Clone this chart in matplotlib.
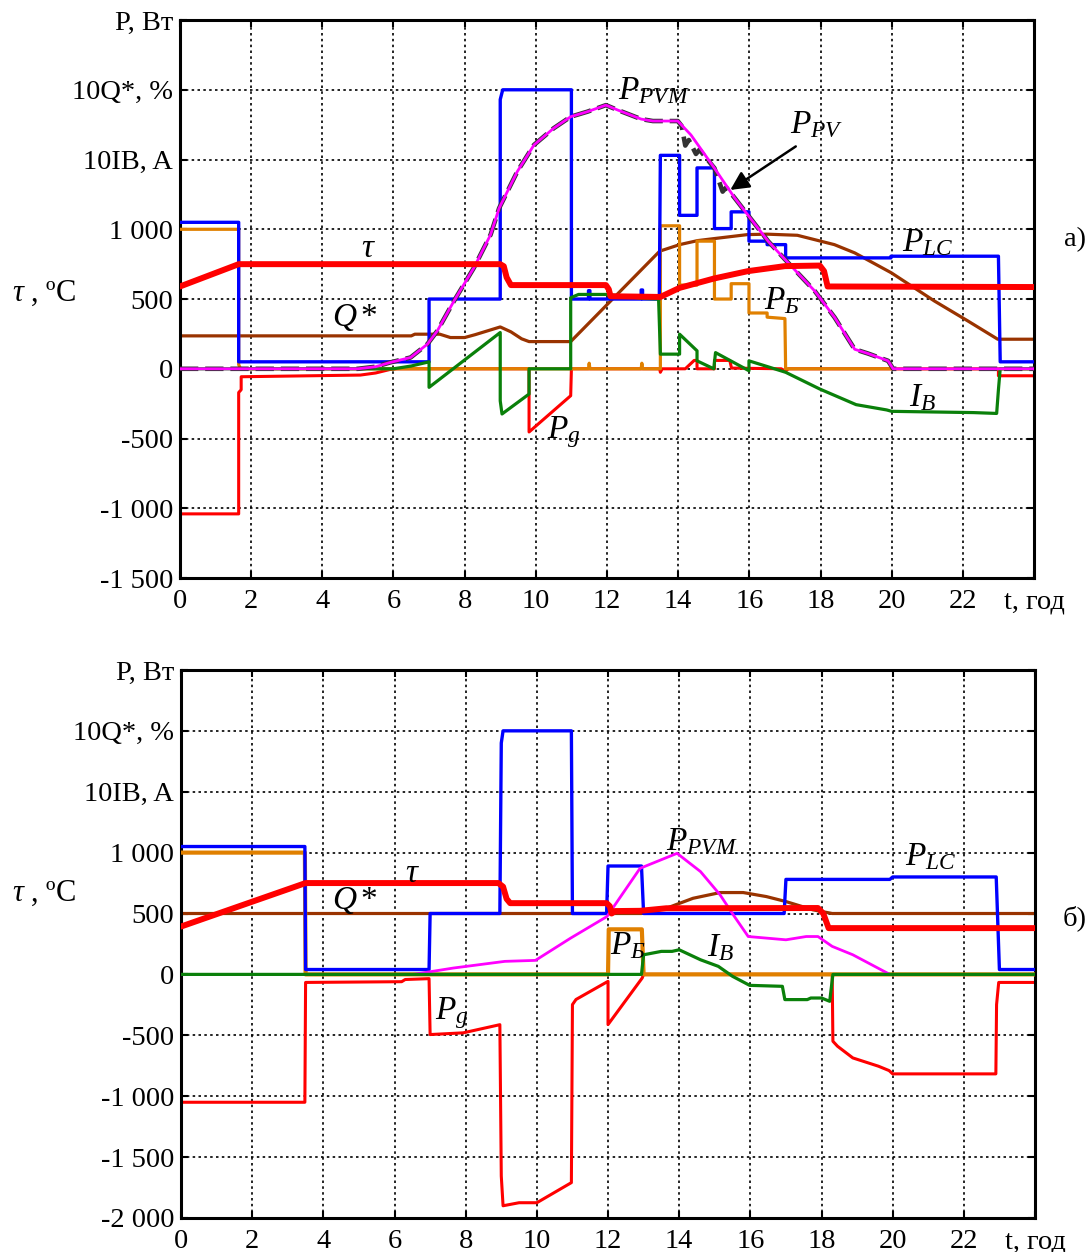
import matplotlib
matplotlib.use("Agg")
import matplotlib.pyplot as plt

plt.rcParams['font.family'] = ['Liberation Serif', 'DejaVu Serif']
plt.rcParams['mathtext.fontset'] = 'custom'
plt.rcParams['mathtext.rm'] = 'Liberation Serif'
plt.rcParams['mathtext.it'] = 'Liberation Serif:italic'
plt.rcParams['mathtext.bf'] = 'Liberation Serif:bold'

# ---------------- panel a) data ----------------
t_load_a = [0, 1.65, 1.65, 7.0, 7.0, 9.0, 9.0, 9.07, 11.0, 11.0, 11.48, 11.48, 11.52, 11.52, 12.96, 12.96, 13.0, 13.0,
            13.47, 13.5, 14.04, 14.04, 14.53, 14.53, 15.02, 15.02, 15.49, 15.49, 15.99, 15.99, 16.5, 16.5, 17.02, 17.02,
            19.98, 19.98, 23.0, 23.05, 24]
p_load_a = [1050, 1050, 50, 50, 500, 500, 1930, 2000, 2000, 500, 500, 560, 560, 500, 500, 565, 565, 500,
            500, 1530, 1530, 1100, 1100, 1440, 1440, 1005, 1005, 1125, 1125, 915, 915, 890, 890, 795,
            795, 807, 807, 50, 50]

t_bat_a = [0, 1.65, 1.65, 1.7, 11.48, 11.5, 11.52, 12.96, 12.98, 13.0, 13.5, 13.5, 14.04, 14.04, 14.53, 14.53,
           15.02, 15.02, 15.49, 15.49, 15.99, 15.99, 16.5, 16.5, 17.0, 17.02, 24]
p_bat_a = [1000, 1000, 30, 0, 0, 40, 0, 0, 40, 0, 0, 1025, 1025, 600, 600, 915,
           915, 500, 500, 610, 610, 400, 400, 370, 360, 0, 0]

t_tau_a = [0, 1.65, 9.0, 9.1, 9.18, 9.3, 11.97, 12.05, 12.1, 13.5, 14.04, 15.02, 15.96, 17.0, 17.98, 18.1, 18.2, 24]
tau_a = [590, 750, 750, 735, 655, 600, 600, 570, 520, 515, 580, 648, 700, 736, 740, 700, 590, 586]

t_grid_a = [0, 1.65, 1.65, 1.72, 1.72, 5.07, 5.5, 5.9, 6.1, 9.81, 9.81, 10.98, 11.0, 13.48, 13.5, 13.55, 14.2,
            14.45, 14.53, 14.53, 15.02, 15.02, 15.45, 15.5, 16.9, 17.0, 17.1, 23.0, 23.0, 24]
p_grid_a = [-1040, -1040, -170, -150, -57, -45, -30, -5, 0, 0, -453, -193, 0, 0, -25, 0, 0,
            60, 60, 0, 0, 60, 60, 5, 0, -20, 0, 0, -50, -50]

t_ib_a = [0, 6.0, 6.5, 7.0, 7.0, 9.0, 9.0, 9.05, 9.81, 9.81, 10.98, 10.98, 11.2, 11.98, 12.5, 12.97, 13.45,
          13.5, 14.04, 14.04, 14.53, 14.53, 15.0, 15.05, 15.99, 15.99, 17.02, 17.98, 19.0, 19.86, 20.0, 22.3,
          22.95, 23.0, 23.05, 24]
ib_a = [0, 0, 20, 50, -133, 260, -230, -324, -181, 0, 0, 509, 533, 533, 520, 505, 500,
        105, 105, 248, 129, 57, 0, 116, -14, 57, -25, -145, -257, -295, -305, -314,
        -320, -150, 0, 0]

t_soc_a = [0, 6.5, 6.6, 7.3, 7.6, 8.0, 8.3, 9.0, 9.3, 9.6, 9.81, 10.98, 13.48, 14.04, 14.55, 15.0, 15.95,
           16.5, 17.35, 18.39, 18.96, 19.99, 21.2, 22.14, 22.98, 24]
soc_a = [236, 236, 248, 248, 224, 224, 245, 300, 265, 215, 195, 195, 843, 890, 919, 933, 962,
         965, 957, 890, 831, 688, 486, 343, 212, 212]

t_pvm_a = [0, 5.0, 5.5, 5.9, 6.48, 6.95, 7.23, 7.7, 8.26, 8.73, 8.97, 9.48, 9.95, 10.5, 10.98, 11.45, 11.97,
           12.3, 12.96, 13.29, 13.99, 14.36, 15.02, 15.59, 16.06, 16.53, 17.09, 17.84, 18.4, 18.96, 19.34,
           19.9, 20.04, 24]
p_pvm_a = [0, 0, 15, 45, 81, 176, 271, 486, 724, 962, 1152, 1414, 1605, 1724, 1807, 1843, 1890,
           1855, 1790, 1776, 1776, 1676, 1438, 1224, 1069, 914, 760, 557, 367, 140, 109,
           57, 0, 0]

t_pv_a = [0, 5.0, 5.5, 5.9, 6.48, 6.95, 7.23, 7.7, 8.26, 8.73, 8.97, 9.48, 9.95, 10.5, 10.98, 11.45, 11.97,
          12.3, 12.96, 13.29, 13.99, 14.1, 14.2, 14.3, 14.5, 14.6, 15.02, 15.25, 15.35, 15.59, 16.06, 16.53,
          17.09, 17.84, 18.4, 18.96, 19.34, 19.9, 20.04, 24]
p_pv_a = [0, 0, 15, 45, 81, 176, 271, 486, 724, 962, 1152, 1414, 1605, 1724, 1807, 1843, 1890,
          1855, 1790, 1776, 1776, 1740, 1600, 1640, 1540, 1570, 1438, 1270, 1300, 1224, 1069, 914,
          760, 557, 367, 140, 109, 57, 0, 0]

# ---------------- panel b) data ----------------
t_load_b = [0, 3.48, 3.5, 6.97, 7.0, 8.96, 9.0, 9.05, 10.97, 11.0, 11.96, 12.0, 12.94, 13.0, 16.95, 17.0,
            19.92, 20.0, 22.91, 23.0, 24]
p_load_b = [1050, 1050, 40, 40, 500, 500, 1900, 2000, 2000, 500, 500, 890, 890, 500, 500, 780,
            780, 800, 800, 40, 40]

t_bat_b = [0, 3.48, 3.5, 12.0, 12.02, 12.95, 13.0, 24]
p_bat_b = [1000, 1000, 0, 0, 370, 370, 0, 0]

t_tau_b = [0, 3.5, 8.92, 9.05, 9.15, 9.25, 11.96, 12.05, 12.1, 12.2, 12.9, 13.64, 17.9, 18.05, 18.2, 24]
tau_b = [393, 750, 750, 720, 620, 585, 585, 560, 500, 520, 522, 543, 545, 500, 380, 380]

t_grid_b = [0, 3.48, 3.5, 6.2, 6.3, 6.97, 7.0, 7.93, 8.96, 9.0, 9.05, 9.5, 10.0, 10.97, 11.0, 11.1, 12.0,
            12.0, 12.96, 13.0, 18.3, 18.32, 18.45, 18.88, 19.6, 19.9, 20.0, 22.9, 22.92, 22.98, 24]
p_grid_b = [-1050, -1050, -66, -60, -42, -35, -494, -480, -413, -1656, -1900, -1875, -1875, -1710, -248, -206, -57,
            -412, -30, 0, 0, -549, -590, -686, -754, -790, -817, -817, -248, -66, -66]

t_ib_b = [0, 12.94, 13.0, 13.5, 13.8, 14.0, 14.6, 15.1, 15.5, 15.98, 16.9, 16.97, 17.6, 17.7, 18.0, 18.23,
          18.32, 24]
ib_b = [0, 0, 161, 189, 189, 202, 120, 66, -16, -90, -98, -207, -207, -194, -194, -221,
        0, 0]

t_soc_b = [0, 12.94, 13.64, 14.39, 15.15, 15.8, 16.45, 17.0, 17.76, 18.3, 24]
soc_b = [500, 500, 543, 625, 672, 672, 639, 598, 530, 500, 500]

t_pvm_b = [0, 6.53, 7.65, 9.1, 9.96, 10.95, 11.97, 12.9, 13.94, 14.6, 15.15, 15.52, 15.94, 16.45, 17.0,
           17.57, 17.9, 18.3, 18.88, 19.92, 24]
p_pvm_b = [0, 0, 52, 107, 115, 298, 475, 871, 994, 844, 653, 489, 311, 298, 284,
           311, 311, 230, 161, 0, 0]

# ---------------- axes labels ----------------
x_ticks = list(range(0, 25, 2))
x_labels = ['0', '2', '4', '6', '8', '10', '12', '14', '16', '18', '20', '22', 't, год']
y_ticks_a = [-1500, -1000, -500, 0, 500, 1000, 1500, 2000, 2500]
y_labels_a = ['-1 500', '-1 000', '-500', '0', '500', '1 000', '10IB, A', '10Q*, %', 'P, Вт']
y_ticks_b = [-2000, -1500, -1000, -500, 0, 500, 1000, 1500, 2000, 2500]
y_labels_b = ['-2 000', '-1 500', '-1 000', '-500', '0', '500', '1 000', '10IB, A', '10Q*, %', 'P, Вт']

C_BLUE = '#0000ff'
C_RED = '#ff0000'
C_ORANGE = '#e08000'
C_BROWN = '#993300'
C_GREEN = '#0a800a'
C_MAG = '#ff00ff'

fig = plt.figure(figsize=(10.92, 12.52), dpi=100)
ax1 = fig.add_axes([0.1648, 0.5383, 0.7821, 0.4457])
ax2 = fig.add_axes([0.1658, 0.0272, 0.7820, 0.4377])

FS = 20.5
LFS = 24


def style(ax, yt, yl, ylim):
    ax.set_xlim(0, 24)
    ax.set_ylim(*ylim)
    ax.set_xticks(x_ticks)
    ax.set_xticklabels(x_labels, fontsize=FS)
    ax.set_yticks(yt)
    ax.set_yticklabels(yl, fontsize=FS)
    ax.grid(True, color='black', linestyle=(0, (1.5, 2.0)), linewidth=1.2)
    ax.tick_params(direction='in', length=5, width=1.5, top=True, right=True, pad=5)
    ax.tick_params(axis='x', pad=8)
    for s in ax.spines.values():
        s.set_linewidth(2.2)
    ax.set_axisbelow(True)


def line(ax, t, v, c, lw, z, **kw):
    ax.plot(t, v, color=c, lw=lw, zorder=z, solid_joinstyle='round', solid_capstyle='round', **kw)


# ---- panel a ----
style(ax1, y_ticks_a, y_labels_a, (-1500, 2500))
line(ax1, t_grid_a, p_grid_a, C_RED, 2.2, 1.5)
line(ax1, t_soc_a, soc_a, C_BROWN, 2.3, 2)
line(ax1, t_bat_a, p_bat_a, C_ORANGE, 2.3, 3)
line(ax1, t_load_a, p_load_a, C_BLUE, 2.4, 4)
line(ax1, t_ib_a, ib_a, C_GREEN, 2.3, 5)
ax1.plot(t_pv_a, p_pv_a, color='#333333', lw=3.3, zorder=7, linestyle=(0, (4, 1.5)))
line(ax1, t_pvm_a, p_pvm_a, C_MAG, 2.0, 8)
line(ax1, t_tau_a, tau_a, C_RED, 4.3, 9)

ax1.text(12.3, 1935, r'$P_{PVM}$', fontsize=LFS, zorder=10)
ax1.text(17.13, 1688, r'$P_{PV}$', fontsize=LFS, zorder=10)
ax1.annotate('', xy=(15.4, 1271), xytext=(17.37, 1605),
             arrowprops=dict(arrowstyle='-|>', color='black', lw=1.8, mutation_scale=28), zorder=10)
ax1.text(20.28, 843, r'$P_{LC}$', fontsize=LFS, zorder=10)
ax1.text(5.1, 800, r'$\tau$', fontsize=LFS, zorder=10)
ax1.text(4.27, 305, r'$Q*$', fontsize=LFS, zorder=10)
ax1.text(16.42, 430, r'$P_{Б}$', fontsize=LFS, zorder=10)
ax1.text(20.5, -270, r'$I_{B}$', fontsize=LFS, zorder=10)
ax1.text(10.32, -495, r'$P_{g}$', fontsize=LFS, zorder=10)

# ---- panel b ----
style(ax2, y_ticks_b, y_labels_b, (-2000, 2500))
line(ax2, t_grid_b, p_grid_b, C_RED, 2.2, 1.5)
line(ax2, t_soc_b, soc_b, C_BROWN, 2.3, 2)
line(ax2, t_bat_b, p_bat_b, C_ORANGE, 3.0, 3)
line(ax2, t_load_b, p_load_b, C_BLUE, 2.4, 4)
line(ax2, t_pvm_b, p_pvm_b, C_MAG, 2.0, 6)
line(ax2, t_ib_b, ib_b, C_GREEN, 2.3, 7)
line(ax2, t_tau_b, tau_b, C_RED, 4.3, 9)

ax2.text(13.64, 1022, r'$P_{PVM}$', fontsize=LFS, zorder=10)
ax2.text(20.34, 893, r'$P_{LC}$', fontsize=LFS, zorder=10)
ax2.text(6.29, 762, r'$\tau$', fontsize=LFS, zorder=10)
ax2.text(4.23, 533, r'$Q*$', fontsize=LFS, zorder=10)
ax2.text(12.05, 164, r'$P_{Б}$', fontsize=LFS, zorder=10)
ax2.text(14.77, 148, r'$I_{B}$', fontsize=LFS, zorder=10)
ax2.text(7.13, -372, r'$P_{g}$', fontsize=LFS, zorder=10)

# side labels
fig.text(0.040, 1 - 293 / 1252, r'$\tau$ , ºC', fontsize=22, ha='center', va='center')
fig.text(0.040, 1 - 893 / 1252, r'$\tau$ , ºC', fontsize=22, ha='center', va='center')
fig.text(0.984, 1 - 240 / 1252, 'а)', fontsize=FS, ha='center', va='center')
fig.text(0.984, 1 - 918 / 1252, 'б)', fontsize=FS, ha='center', va='center')

fig.savefig('out.png', dpi=100)
